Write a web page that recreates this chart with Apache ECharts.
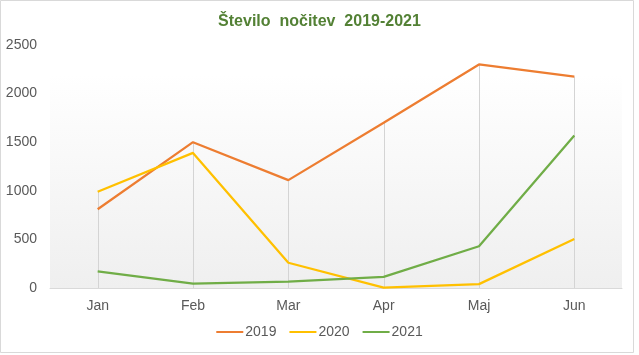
<!DOCTYPE html>
<html><head><meta charset="utf-8">
<script src="https://cdn.jsdelivr.net/npm/echarts@6/dist/echarts.min.js"></script>
<style>html,body{margin:0;padding:0;background:#fff}#c{width:639px;height:355px}</style>
</head><body><div id="c"></div>
<script>
const categories = ['Jan','Feb','Mar','Apr','Maj','Jun'];
const s2019 = [810, 1500, 1110, 1700, 2300, 2175];
const s2020 = [990, 1390, 260, 3, 40, 505];
const s2021 = [170, 45, 65, 115, 430, 1570];
const yTicks = [0, 500, 1000, 1500, 2000, 2500];

const dropMax = categories.map((c, i) => Math.max(s2019[i], s2020[i], s2021[i]));
const chart = echarts.init(document.getElementById('c'));
const font = '"Liberation Sans", Arial, sans-serif';
chart.setOption({
  animation: false,
  backgroundColor: '#fff',
  title: {
    text: 'Število  nočitev  2019-2021', left: 'center', top: 9,
    textStyle: {color: '#538135', fontSize: 16, fontWeight: 'bold', fontFamily: font}
  },
  graphic: [{type: 'rect', shape: {x: 0.5, y: 0.5, width: 633, height: 352}, style: {fill: 'none', stroke: '#d9d9d9', lineWidth: 1}, silent: true, z: -1}],
  legend: {
    bottom: 11, left: 'center', itemGap: 13, itemWidth: 27, itemHeight: 2, icon: 'rect',
    textStyle: {color: '#595959', fontSize: 14, fontFamily: font, padding: [0,0,0,-3]},
    data: ['2019','2020','2021']
  },
  grid: {left: 50, right: 17, top: 45, bottom: 67, show: true, borderWidth: 0,
    backgroundColor: {type: 'linear', x: 0, y: 0, x2: 0, y2: 1, colorStops: [{offset: 0, color: '#ffffff'}, {offset: 0.12, color: '#ffffff'}, {offset: 1, color: '#efefef'}]}},
  xAxis: {type: 'category', data: categories, boundaryGap: true,
    axisLine: {lineStyle: {color: '#d9d9d9'}}, axisTick: {show: false},
    axisLabel: {color: '#595959', fontSize: 14, fontFamily: font, margin: 11}},
  yAxis: {type: 'value', min: yTicks[0], max: yTicks[yTicks.length-1], interval: 500,
    splitLine: {show: false}, axisLine: {show: false}, axisTick: {show: false},
    axisLabel: {color: '#595959', fontSize: 14, fontFamily: font, margin: 13, formatter: v => String(v)}},
  series: [
    {type: 'custom', name: 'drop', silent: true, z: 1,
      data: dropMax.map((v, i) => [i, v]),
      renderItem: function (params, api) {
        const top = api.coord([api.value(0), api.value(1)]);
        const bot = api.coord([api.value(0), 0]);
        return {type: 'line', shape: {x1: Math.round(top[0]) + 0.5, y1: top[1], x2: Math.round(bot[0]) + 0.5, y2: bot[1]}, style: {stroke: '#d4d4d4', lineWidth: 1}};
      }},
    {name: '2019', type: 'line', data: s2019, symbol: 'none', z: 3, lineStyle: {width: 2.25, color: '#ED7D31'}, itemStyle: {color: '#ED7D31'}},
    {name: '2020', type: 'line', data: s2020, symbol: 'none', z: 3, lineStyle: {width: 2.25, color: '#FFC000'}, itemStyle: {color: '#FFC000'}},
    {name: '2021', type: 'line', data: s2021, symbol: 'none', z: 3, lineStyle: {width: 2.25, color: '#70AD47'}, itemStyle: {color: '#70AD47'}}
  ]
});
</script></body></html>
